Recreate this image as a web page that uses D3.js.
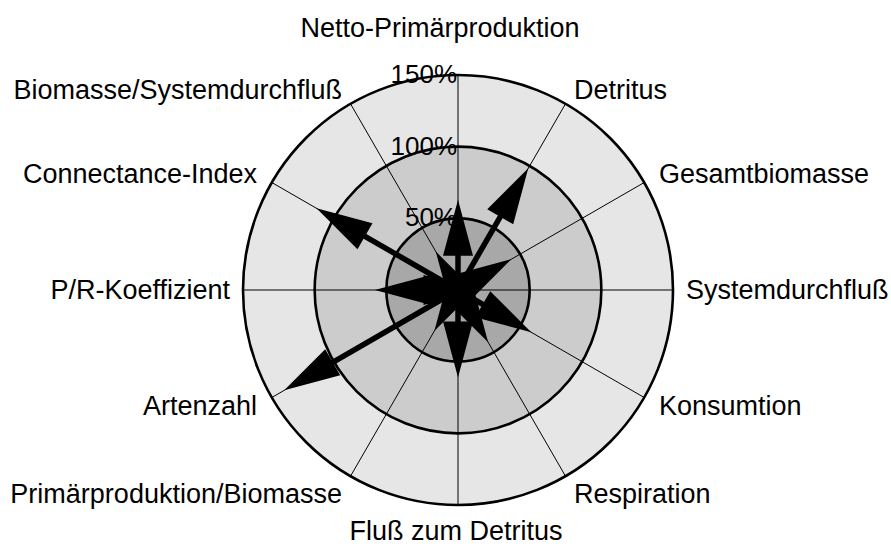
<!DOCTYPE html>
<html>
<head>
<meta charset="utf-8">
<script src="https://cdnjs.cloudflare.com/ajax/libs/d3/7.8.5/d3.min.js"></script>
<style>
  body { margin: 0; background: #fff; }
  svg { display: block; }
</style>
</head>
<body>
<div id="chart"></div>
<script>
var categories = ["Netto-Primärproduktion", "Detritus", "Gesamtbiomasse", "Systemdurchfluß",
                  "Konsumtion", "Respiration", "Fluß zum Detritus", "Primärproduktion/Biomasse",
                  "Artenzahl", "P/R-Koeffizient", "Connectance-Index", "Biomasse/Systemdurchfluß"];
var values = [63, 98, 43, 15, 59, 42, 61, 33, 140, 58, 114, 31];
var ringLevels = [150, 100, 50];
var ringLabels = ["150%", "100%", "50%"];
var ringFills = ["#e6e6e6", "#cccccc", "#a8a8a8"];

var w = 891, h = 548;
var cx = 458, cy = 290;
var font = "'Liberation Sans', Arial, sans-serif";

var svg = d3.select("#chart")
  .append("svg")
  .attr("width", w)
  .attr("height", h);

var rScale = d3.scaleLinear()
  .domain([0, 150])
  .range([0, 215]);

var aScale = d3.scaleLinear()
  .domain([0, categories.length])
  .range([0, 2 * Math.PI]);

var g = svg.append("g")
  .attr("transform", "translate(" + cx + "," + cy + ")");

// rings, outer first
g.selectAll("circle.ring")
  .data(ringLevels)
  .enter()
  .append("circle")
  .attr("class", "ring")
  .attr("r", function(d) { return rScale(d); })
  .attr("fill", function(d, i) { return ringFills[i]; })
  .attr("stroke", "#000")
  .attr("stroke-width", 2.6);

// spokes
g.selectAll("line.spoke")
  .data(categories)
  .enter()
  .append("line")
  .attr("class", "spoke")
  .attr("x1", 0)
  .attr("y1", 0)
  .attr("x2", function(d, i) { return rScale(150) * Math.sin(aScale(i)); })
  .attr("y2", function(d, i) { return -rScale(150) * Math.cos(aScale(i)); })
  .attr("stroke", "#000")
  .attr("stroke-width", 1);

// arrows
var headLen = 56, headW = 30;

g.selectAll("line.shaft")
  .data(values)
  .enter()
  .append("line")
  .attr("class", "shaft")
  .attr("x1", 0)
  .attr("y1", 0)
  .attr("x2", function(d, i) { return Math.max(0, rScale(d) - headLen + 2) * Math.sin(aScale(i)); })
  .attr("y2", function(d, i) { return -Math.max(0, rScale(d) - headLen + 2) * Math.cos(aScale(i)); })
  .attr("stroke", "#000")
  .attr("stroke-width", 5.5);

g.selectAll("path.head")
  .data(values)
  .enter()
  .append("path")
  .attr("class", "head")
  .attr("d", function(d, i) {
    var a = aScale(i);
    var ux = Math.sin(a), uy = -Math.cos(a);
    var px = Math.cos(a), py = Math.sin(a);
    var L = rScale(d), b = L - headLen;
    var pts = [
      [L * ux, L * uy],
      [b * ux + px * headW / 2, b * uy + py * headW / 2],
      [b * ux - px * headW / 2, b * uy - py * headW / 2]
    ];
    return d3.line()(pts) + "Z";
  })
  .attr("fill", "#000");

// ring labels
g.selectAll("text.pct")
  .data(ringLevels)
  .enter()
  .append("text")
  .attr("class", "pct")
  .attr("x", -1)
  .attr("y", function(d) { return -rScale(d) + 8; })
  .attr("text-anchor", "end")
  .attr("font-family", font)
  .attr("font-size", "26px")
  .attr("fill", "#000")
  .text(function(d, i) { return ringLabels[i]; });

// category labels
g.selectAll("text.cat")
  .data(categories)
  .enter()
  .append("text")
  .attr("class", "cat")
  .attr("x", function(d, i) {
    var s = Math.sin(aScale(i));
    if (Math.abs(s) < 0.01) return Math.cos(aScale(i)) > 0 ? -18 : -2;
    var r = Math.abs(s) > 0.99 ? 228 : 232;
    return r * s;
  })
  .attr("y", function(d, i) {
    var c = Math.cos(aScale(i));
    return -232 * c;
  })
  .attr("dy", function(d, i) {
    var c = Math.cos(aScale(i)), s = Math.sin(aScale(i));
    if (Math.abs(s) < 0.01) return c > 0 ? "-0.78em" : "0.66em";
    return c < -0.8 ? "0.45em" : "0.35em";
  })
  .attr("text-anchor", function(d, i) {
    var s = Math.sin(aScale(i));
    if (Math.abs(s) < 0.01) return "middle";
    return s > 0 ? "start" : "end";
  })
  .attr("font-family", font)
  .attr("font-size", "27px")
  .attr("fill", "#000")
  .text(function(d) { return d; });
</script>
</body>
</html>
